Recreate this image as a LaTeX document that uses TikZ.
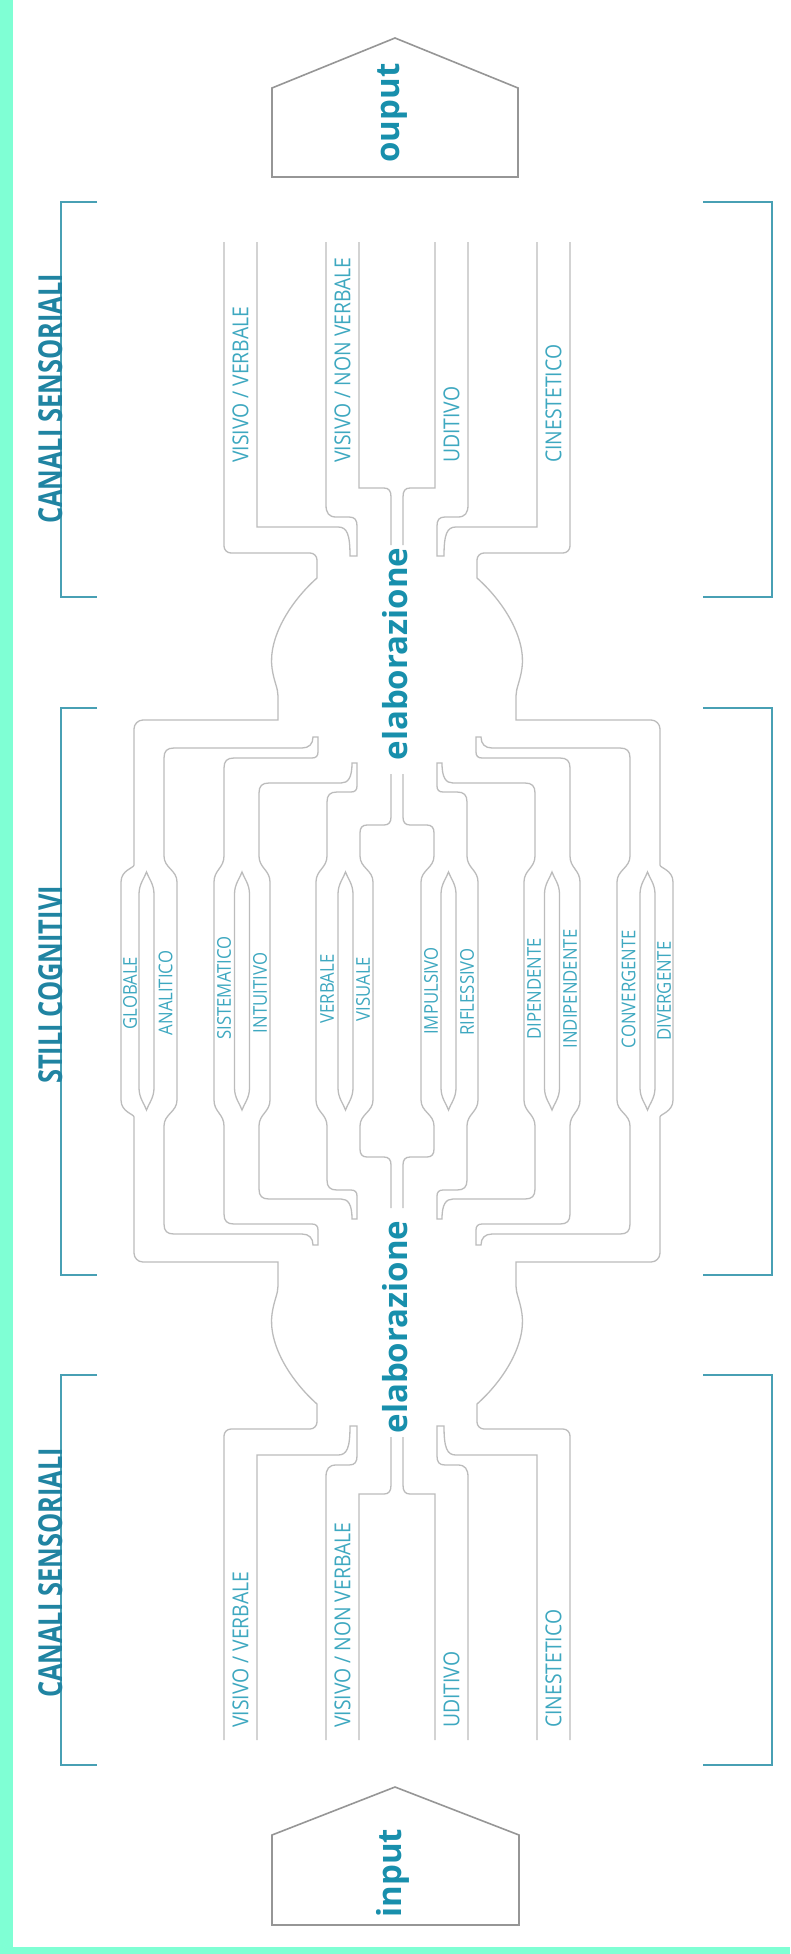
\documentclass[tikz,border=0pt]{standalone}
\usepackage{fontspec}
\setmainfont{Open Sans}
\newfontfamily\lblfont[FakeStretch=0.88]{Open Sans}
\newfontfamily\ttlfont[FakeStretch=0.77]{Open Sans}
\definecolor{framec}{RGB}{127,255,212}
\definecolor{wallc}{RGB}{188,188,188}
\definecolor{boxc}{RGB}{150,150,150}
\definecolor{brkc}{RGB}{72,160,180}
\definecolor{tealdark}{RGB}{24,143,172}
\definecolor{ttlc}{RGB}{32,132,162}
\definecolor{lblc}{RGB}{62,168,192}
\newcommand\mylens[1]{%
  \draw[wall] ({#1-7.5},991) -- ({#1-7.5},894) .. controls ({#1-7.5},884) and ({#1-2},878) .. (#1,872)
     .. controls ({#1+2},878) and ({#1+7.5},884) .. ({#1+7.5},894) -- ({#1+7.5},991);}
\newcommand\myquadrant{%
  % pipe 1 left wall -> bulb -> pair 1 left wall
  \draw[wall] (224,242) [rounded corners=7pt] -- (224,553) -- (317,553) [sharp corners] -- (317,578)
     .. controls (290,602) and (268,638) .. (272,668)
     .. controls (274,682) and (278,688) .. (278,696)
     -- (278,720) [rounded corners=9pt] -- (134,720) -- (134,856) [sharp corners]
     .. controls (134,868) and (121,870) .. (121,882) -- (121,991);
  % pipe 1 right wall -> hook -> pipe 2 left wall
  \draw[wall] (257,242) -- (257,527) -- (338,527) .. controls (347,527) and (350,534) .. (350,556)
     -- (357,556) -- (357,526) .. controls (357,520) and (355,517) .. (349,517) -- (336,517)
     .. controls (329,517) and (326,513) .. (326,505) -- (326,242);
  % pipe 2 right wall -> neck
  \draw[wall] (359,242) -- (359,488) -- (384,488) .. controls (389,488) and (391,491) .. (391,497) -- (391,545);
  % neck below text -> pair 3 right wall
  \draw[wall] (391,774) -- (391,817) .. controls (391,822) and (389,825) .. (384,825) -- (367,825)
     .. controls (362,825) and (360,828) .. (360,833) -- (360,856)
     .. controls (360,868) and (373,870) .. (373,882) -- (373,991);
  % pair 1 right wall -> tip -> pair 2 left wall
  \draw[wall] (177,991) -- (177,882) .. controls (177,870) and (164,868) .. (164,856) -- (164,758)
     .. controls (164,751) and (167,748) .. (174,748) -- (302,748) .. controls (309,748) and (313,744) .. (313,737)
     -- (318,737) -- (318,752) .. controls (318,756) and (316,758) .. (312,758) -- (234,758)
     .. controls (227,758) and (224,761) .. (224,768) -- (224,856)
     .. controls (224,868) and (214,870) .. (214,882) -- (214,991);
  % pair 2 right wall -> tip -> pair 3 left wall
  \draw[wall] (270,991) -- (270,882) .. controls (270,870) and (259,868) .. (259,856) -- (259,793)
     .. controls (259,786) and (262,783) .. (269,783) -- (341,783) .. controls (348,783) and (352,778) .. (352,763)
     -- (357,763) -- (357,786) .. controls (357,790) and (355,792) .. (351,792) -- (337,792)
     .. controls (330,792) and (327,795) .. (327,802) -- (327,856)
     .. controls (327,868) and (316,870) .. (316,882) -- (316,991);
  \mylens{146.5}\mylens{242}\mylens{345.5}%
}
\begin{document}
\begin{tikzpicture}[x=1pt,y=-1pt,
  wall/.style={draw=wallc,line width=1.3pt},
  boxline/.style={draw=boxc,line width=1.6pt,line join=miter},
  brk/.style={draw=brkc,line width=2.2pt},
  bigtext/.style={text=tealdark,font=\bfseries\fontsize{33}{36}\selectfont,inner sep=0pt,rotate=90},
  ttl/.style={text=ttlc,font=\ttlfont\bfseries\fontsize{33}{36}\selectfont,inner sep=0pt,rotate=90,anchor=base},
  clbl/.style={text=lblc,font=\lblfont\fontsize{22}{24}\selectfont,inner sep=0pt,rotate=90,anchor=west},
  slbl/.style={text=lblc,font=\lblfont\fontsize{19}{21}\selectfont,inner sep=0pt,rotate=90}]
\useasboundingbox (0,0) rectangle (790,1954);
\fill[white] (0,0) rectangle (790,1954);
\fill[framec] (0,0) rectangle (13,1954);
\fill[framec] (0,1947) rectangle (790,1954);

% output / input boxes
\draw[boxline] (272,177) -- (272,88) -- (395,38) -- (518,88) -- (518,177) -- cycle;
\draw[boxline] (272,1925) -- (272,1835) -- (395,1787) -- (519,1835) -- (519,1925) -- cycle;
\node[bigtext] (out) at (393,113) {ouput};
\node[bigtext] (in) at (393,1873) {input};

% brackets
\foreach \ya/\yb in {202/597,708/1275,1375/1765}{
  \draw[brk] (97,\ya) -- (61,\ya) -- (61,\yb) -- (97,\yb);
  \draw[brk] (703,\ya) -- (772,\ya) -- (772,\yb) -- (703,\yb);
}
\node[ttl] (t1) at (62,399) {CANALI SENSORIALI};
\node[ttl] (t2) at (62,985) {STILI COGNITIVI};
\node[ttl] (t3) at (62,1573) {CANALI SENSORIALI};

% central pipe structure (four mirrored quadrants)
\myquadrant
\begin{scope}[shift={(794,0)},xscale=-1]\myquadrant\end{scope}
\begin{scope}[shift={(0,1982)},yscale=-1]\myquadrant\end{scope}
\begin{scope}[shift={(794,1982)},xscale=-1,yscale=-1]\myquadrant\end{scope}

\node[bigtext] (e1) at (395,654) {elaborazione};
\node[bigtext] (e2) at (395,1327) {elaborazione};

% channel labels (top)
\node[clbl] (a1) at (240.5,463) {VISIVO / VERBALE};
\node[clbl] (a2) at (342.5,463) {VISIVO / NON VERBALE};
\node[clbl] (a3) at (451.5,463) {UDITIVO};
\node[clbl] (a4) at (553.5,463) {CINESTETICO};
% channel labels (bottom)
\node[clbl] (b1) at (240.5,1728) {VISIVO / VERBALE};
\node[clbl] (b2) at (342.5,1728) {VISIVO / NON VERBALE};
\node[clbl] (b3) at (451.5,1728) {UDITIVO};
\node[clbl] (b4) at (553.5,1728) {CINESTETICO};

% cognitive style labels
\node[slbl] (s1) at (130,993) {GLOBALE};
\node[slbl] (s2) at (165.5,993) {ANALITICO};
\node[slbl] (s3) at (224,988) {SISTEMATICO};
\node[slbl] (s4) at (260,993) {INTUITIVO};
\node[slbl] (s5) at (327,989) {VERBALE};
\node[slbl] (s6) at (363,989) {VISUALE};
\node[slbl] (s7) at (431,991) {IMPULSIVO};
\node[slbl] (s8) at (467,992) {RIFLESSIVO};
\node[slbl] (s9) at (534,989) {DIPENDENTE};
\node[slbl] (s10) at (570,989) {INDIPENDENTE};
\node[slbl] (s11) at (628.5,989) {CONVERGENTE};
\node[slbl] (s12) at (664,991) {DIVERGENTE};
\end{tikzpicture}
\end{document}
